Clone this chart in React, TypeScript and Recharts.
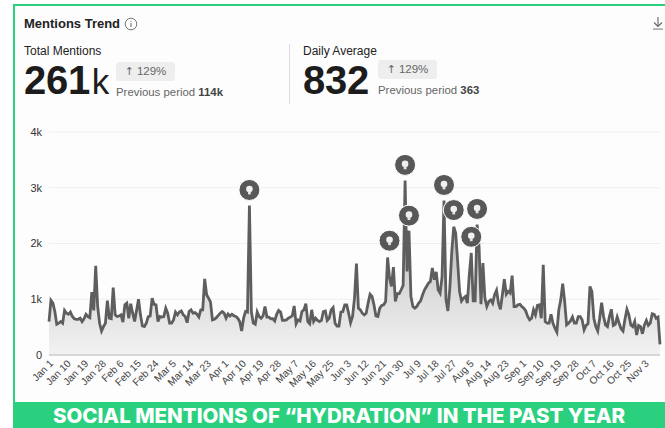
import { Area, AreaChart, CartesianGrid, ReferenceDot, XAxis, YAxis } from 'recharts';

const monthNames = ['Jan', 'Feb', 'Mar', 'Apr', 'May', 'Jun', 'Jul', 'Aug', 'Sep', 'Oct', 'Nov'];
const monthDays = [31, 28, 31, 30, 31, 30, 31, 31, 30, 31, 11];

const tickLabels = [
  'Jan 1', 'Jan 10', 'Jan 19', 'Jan 28', 'Feb 6', 'Feb 15', 'Feb 24', 'Mar 5', 'Mar 14', 'Mar 23', 'Apr 1', 'Apr 10',
  'Apr 19', 'Apr 28', 'May 7', 'May 16', 'May 25', 'Jun 3', 'Jun 12', 'Jun 21', 'Jun 30', 'Jul 9', 'Jul 18', 'Jul 27',
  'Aug 5', 'Aug 14', 'Aug 23', 'Sep 1', 'Sep 10', 'Sep 19', 'Sep 28', 'Oct 7', 'Oct 16', 'Oct 25', 'Nov 3',
];

const yTicks = [0, 1000, 2000, 3000, 4000];

const mentions = [
  600, 980, 930, 780, 550, 570, 600, 570, 800, 750, 730, 770, 690, 650, 640, 640, 660, 600, 650, 730,
  690, 670, 1130, 800, 1600, 870, 570, 430, 510, 570, 975, 660, 650, 1210, 720, 690, 700, 720, 590, 900,
  930, 660, 920, 750, 600, 800, 1000, 720, 520, 510, 570, 690, 700, 1020, 910, 900, 600, 690, 680, 690,
  840, 750, 570, 570, 630, 770, 720, 770, 790, 720, 690, 580, 780, 810, 750, 760, 730, 680, 810, 810,
  1365, 1080, 1020, 950, 630, 640, 670, 710, 750, 780, 750, 660, 735, 700, 730, 705, 690, 660, 600, 430,
  660, 780, 770, 2680, 770, 570, 550, 770, 690, 660, 700, 870, 680, 680, 650, 650, 610, 730, 800, 770,
  620, 620, 630, 660, 680, 700, 880, 560, 630, 610, 780, 810, 920, 600, 560, 810, 600, 660, 620, 600,
  620, 780, 790, 620, 660, 810, 850, 570, 520, 520, 770, 780, 900, 900, 750, 580, 690, 1020, 1640, 840,
  810, 750, 720, 750, 930, 1090, 1050, 900, 700, 690, 840, 890, 900, 960, 1750, 1380, 1230, 1575, 960, 1100,
  1100, 1170, 1250, 3130, 1500, 2230, 1050, 870, 840, 870, 930, 970, 1080, 1170, 1230, 1290, 1320, 1560, 1350, 1490,
  1170, 1110, 1400, 2770, 1000, 790, 1200, 1860, 2300, 2190, 1680, 1140, 970, 1020, 1050, 930, 1440, 1830, 970, 970,
  2340, 1950, 910, 1650, 1020, 870, 960, 990, 930, 1080, 1160, 930, 820, 1080, 1360, 1090, 1140, 1110, 1425, 870,
  870, 900, 910, 870, 840, 790, 690, 630, 660, 810, 720, 890, 900, 660, 1620, 600, 570, 570, 730, 570,
  480, 410, 810, 990, 1280, 960, 540, 570, 610, 680, 570, 570, 690, 690, 630, 450, 530, 560, 1230, 1140,
  660, 510, 430, 660, 940, 690, 540, 510, 690, 820, 530, 550, 680, 570, 470, 430, 640, 820, 720, 540,
  510, 600, 360, 530, 510, 380, 540, 620, 530, 570, 740, 730, 660, 680, 190,
];

const insightDates = ['Apr 14', 'Jun 25', 'Jul 3', 'Jul 5', 'Jul 23', 'Jul 28', 'Aug 6', 'Aug 9'];
const insightValues = [2960, 2050, 3410, 2500, 3050, 2600, 2120, 2620];

const dates = monthNames.flatMap((m, mi) => Array.from({ length: monthDays[mi] }, (_, d) => `${m} ${d + 1}`));
const chartData = mentions.map((value, i) => ({ date: dates[i], value }));

const font = '"Liberation Sans", Arial, sans-serif';

function BulbMarker({ cx, cy }: { cx?: number; cy?: number }) {
  if (cx === undefined || cy === undefined) return null;
  return (
    <g>
      <circle cx={cx} cy={cy} r={10.5} fill="#585858" stroke="#fff" strokeWidth={1} />
      <circle cx={cx} cy={cy - 1} r={3.3} fill="#f0f0f0" />
      <rect x={cx - 1.4} y={cy + 1.8} width={2.8} height={2.6} fill="#e4e4e4" />
    </g>
  );
}

function Stat({ left, label, value, unit, pillTop, prev }: { left: number; label: string; value: string; unit?: string; pillTop: number; prev: string }) {
  const textLeft = unit ? left + 92 : left + 75;
  return (
    <>
      <div style={{ position: 'absolute', left, top: 44, fontSize: 12, color: '#222', lineHeight: '14px' }}>{label}</div>
      <div style={{ position: 'absolute', left, top: 57, fontSize: 40, fontWeight: 700, color: '#1c1c1c', lineHeight: '46px', letterSpacing: -0.3 }}>
        {value}
        {unit && <span style={{ fontSize: 35, fontWeight: 400, marginLeft: 2 }}>{unit}</span>}
      </div>
      <div style={{ position: 'absolute', left: textLeft, top: pillTop, width: 59, height: 19, background: '#eeeeee', borderRadius: 3, fontSize: 11.5, color: '#666', lineHeight: '19px', textAlign: 'center', whiteSpace: 'nowrap' }}>
        <span style={{ fontFamily: '"DejaVu Sans", sans-serif', fontSize: 11, marginRight: 3 }}>↑</span>129%
      </div>
      <div style={{ position: 'absolute', left: textLeft, top: pillTop + 23, fontSize: 11.4, color: '#666', lineHeight: '14px', whiteSpace: 'nowrap' }}>
        Previous period <b style={{ color: '#444' }}>{prev}</b>
      </div>
    </>
  );
}

export default function App() {
  return (
    <div style={{ position: 'fixed', left: 0, top: 0, width: 665, height: 428, background: '#fff', overflow: 'hidden', fontFamily: font }}>
      <div style={{ position: 'absolute', left: 13, top: 4, width: 652, height: 398, boxSizing: 'border-box', borderLeft: '2px solid #2bd07f', borderTop: '2px solid #2bd07f', background: '#fdfdfd' }} />

      <div style={{ position: 'absolute', left: 24, top: 16, fontSize: 13, fontWeight: 700, color: '#222', lineHeight: '15px' }}>Mentions Trend</div>
      <svg style={{ position: 'absolute', left: 124, top: 17 }} width={14} height={14}>
        <circle cx={7} cy={7} r={5.8} fill="none" stroke="#666" strokeWidth={0.9} />
        <rect x={6.5} y={6} width={1} height={4} fill="#666" />
        <rect x={6.5} y={3.8} width={1} height={1} fill="#666" />
      </svg>
      <svg style={{ position: 'absolute', left: 652, top: 16 }} width={13} height={15}>
        <path d="M6 1 V10 M2 6.5 L6 10.5 L10 6.5" fill="none" stroke="#666" strokeWidth={1.1} />
        <rect x={1} y={12.5} width={10} height={1.2} fill="#888" />
      </svg>

      <Stat left={24} label="Total Mentions" value="261" unit="k" pillTop={62} prev="114k" />
      <div style={{ position: 'absolute', left: 289, top: 44, width: 1, height: 60, background: '#dcdcdc' }} />
      <Stat left={303} label="Daily Average" value="832" pillTop={60} prev="363" />

      <div style={{ position: 'absolute', left: 0, top: 0 }}>
        <AreaChart width={665} height={402} data={chartData} margin={{ top: 132, right: 5, bottom: 0, left: 0 }}>
          <defs>
            <linearGradient id="mentionsFill" x1="0" y1="0" x2="0" y2="1">
              <stop offset="0%" stopColor="#a0a0a0" />
              <stop offset="68%" stopColor="#dedede" />
              <stop offset="100%" stopColor="#f2f2f2" />
            </linearGradient>
          </defs>
          <CartesianGrid vertical={false} stroke="#eeeeee" />
          <XAxis
            dataKey="date"
            ticks={tickLabels}
            interval={0}
            height={47}
            angle={-45}
            textAnchor="end"
            tickLine={false}
            axisLine={{ stroke: '#cccccc', strokeWidth: 1.5 }}
            tick={{ fontSize: 10.2, fill: '#444', fontFamily: font }}
            tickMargin={-2}
          />
          <YAxis
            width={49}
            domain={[0, 4000]}
            ticks={yTicks}
            tickLine={false}
            axisLine={false}
            tick={{ fontSize: 11, fill: '#333', fontFamily: font }}
            tickMargin={1}
            tickFormatter={(v: number) => (v === 0 ? '0' : `${v / 1000}k`)}
          />
          <Area
            dataKey="value"
            type="linear"
            stroke="#5e5e5e"
            strokeWidth={2.8}
            fill="url(#mentionsFill)"
            fillOpacity={1}
            dot={false}
            activeDot={false}
            isAnimationActive={false}
          />
          {insightDates.map((d, i) => (
            <ReferenceDot key={d} x={d} y={insightValues[i]} ifOverflow="visible" shape={<BulbMarker />} />
          ))}
        </AreaChart>
      </div>

      <div style={{ position: 'absolute', left: 13, top: 402, width: 652, height: 26, background: '#2bd07f', color: '#fff', fontFamily: 'Inter, sans-serif', fontSize: 20.5, fontWeight: 800, lineHeight: '28px', textAlign: 'center', whiteSpace: 'nowrap' }}>
        SOCIAL MENTIONS OF “HYDRATION” IN THE PAST YEAR
      </div>
    </div>
  );
}
